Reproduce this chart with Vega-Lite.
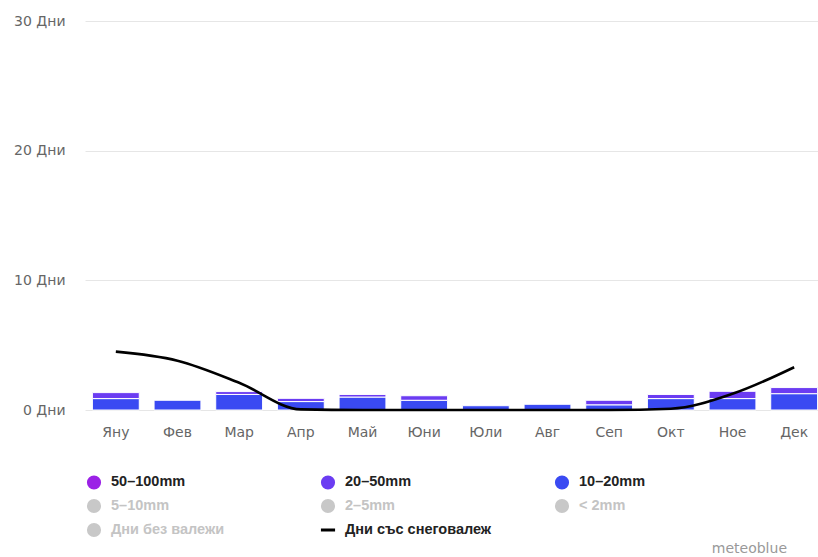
{
  "$schema": "https://vega.github.io/schema/vega-lite/v6.json",
  "autosize": "none",
  "width": 740,
  "height": 389,
  "padding": {"left": 85, "top": 21, "right": 0, "bottom": 147},
  "background": "#ffffff",
  "config": {
    "view": {"stroke": null},
    "font": "DejaVu Sans",
    "axis": {"labelFont": "DejaVu Sans", "labelFontSize": 14, "labelColor": "#666666", "ticks": false, "domain": false, "title": null}
  },
  "title": {"text": "meteoblue", "orient": "bottom", "anchor": "end", "dx": -38, "dy": -9, "offset": 7, "font": "DejaVu Sans", "fontSize": 14, "fontWeight": "normal", "color": "#999999"},
  "datasets": {
    "bars": [
      {"month": "Яну", "range": "10–20mm", "days": 0.88},
      {"month": "Яну", "range": "20–50mm", "days": 0.46},
      {"month": "Фев", "range": "10–20mm", "days": 0.75},
      {"month": "Мар", "range": "10–20mm", "days": 1.2},
      {"month": "Мар", "range": "20–50mm", "days": 0.22},
      {"month": "Апр", "range": "10–20mm", "days": 0.65},
      {"month": "Апр", "range": "20–50mm", "days": 0.25},
      {"month": "Май", "range": "10–20mm", "days": 1.0},
      {"month": "Май", "range": "20–50mm", "days": 0.2},
      {"month": "Юни", "range": "10–20mm", "days": 0.75},
      {"month": "Юни", "range": "20–50mm", "days": 0.35},
      {"month": "Юли", "range": "10–20mm", "days": 0.33},
      {"month": "Авг", "range": "10–20mm", "days": 0.44},
      {"month": "Сеп", "range": "10–20mm", "days": 0.4},
      {"month": "Сеп", "range": "20–50mm", "days": 0.35},
      {"month": "Окт", "range": "10–20mm", "days": 0.88},
      {"month": "Окт", "range": "20–50mm", "days": 0.32},
      {"month": "Ное", "range": "10–20mm", "days": 0.88},
      {"month": "Ное", "range": "20–50mm", "days": 0.56},
      {"month": "Дек", "range": "10–20mm", "days": 1.26},
      {"month": "Дек", "range": "20–50mm", "days": 0.47}
    ],
    "snow": [
      {"month": "Яну", "snow": 4.5},
      {"month": "Фев", "snow": 3.8},
      {"month": "Мар", "snow": 2.1},
      {"month": "Апр", "snow": 0.05},
      {"month": "Май", "snow": 0},
      {"month": "Юни", "snow": 0},
      {"month": "Юли", "snow": 0},
      {"month": "Авг", "snow": 0},
      {"month": "Сеп", "snow": 0},
      {"month": "Окт", "snow": 0.1},
      {"month": "Ное", "snow": 1.25},
      {"month": "Дек", "snow": 3.3}
    ]
  },
  "encoding": {
    "x": {
      "field": "month", "type": "nominal",
      "sort": ["Яну","Фев","Мар","Апр","Май","Юни","Юли","Авг","Сеп","Окт","Ное","Дек"],
      "scale": {"paddingInner": 0.24, "paddingOuter": 0.12},
      "axis": {"labelAngle": 0, "labelPadding": 15, "grid": false}
    }
  },
  "layer": [
    {
      "data": {"name": "bars"},
      "mark": {"type": "bar", "stroke": "#ffffff", "strokeWidth": 1},
      "encoding": {
        "y": {
          "field": "days", "type": "quantitative", "stack": "zero",
          "scale": {"domain": [0, 30]},
          "axis": {"values": [0, 10, 20, 30], "labelExpr": "datum.value + ' Дни'", "labelPadding": 20, "grid": true, "gridColor": "#e6e6e6", "gridWidth": 1}
        },
        "order": {"field": "range", "sort": "ascending"},
        "color": {
          "field": "range", "type": "nominal",
          "scale": {
            "domain": ["50–100mm","20–50mm","10–20mm","5–10mm","2–5mm","< 2mm","Дни без валежи","Дни със снеговалеж"],
            "range": ["#9b21e6","#6b3cf2","#3a4af2","#c8c8c8","#c8c8c8","#c8c8c8","#c8c8c8","#000000"]
          },
          "legend": {
            "title": null,
            "orient": "none",
            "legendX": 0,
            "legendY": 452,
            "direction": "horizontal",
            "columns": 3,
            "gridAlign": "all",
            "columnPadding": 56,
            "rowPadding": -4,
            "symbolType": {"expr": "datum.value === 'Дни със снеговалеж' ? 'stroke' : 'circle'"},
            "symbolStrokeColor": {"expr": "datum.value === 'Дни със снеговалеж' ? '#000000' : 'transparent'"},
            "symbolStrokeWidth": 3,
            "symbolSize": 200,
            "symbolOffset": 0,
            "labelOffset": 8,
            "labelFont": "Liberation Sans",
            "labelFontSize": 14.5,
            "labelFontWeight": "bold",
            "labelLimit": 300,
            "labelColor": {"expr": "indexof(['50–100mm','20–50mm','10–20mm','Дни със снеговалеж'], datum.value) >= 0 ? '#222222' : '#c4c4c4'"}
          }
        }
      }
    },
    {
      "data": {"name": "snow"},
      "mark": {"type": "line", "color": "#000000", "strokeWidth": 2.6, "interpolate": "monotone"},
      "encoding": {
        "y": {"field": "snow", "type": "quantitative"}
      }
    }
  ]
}
